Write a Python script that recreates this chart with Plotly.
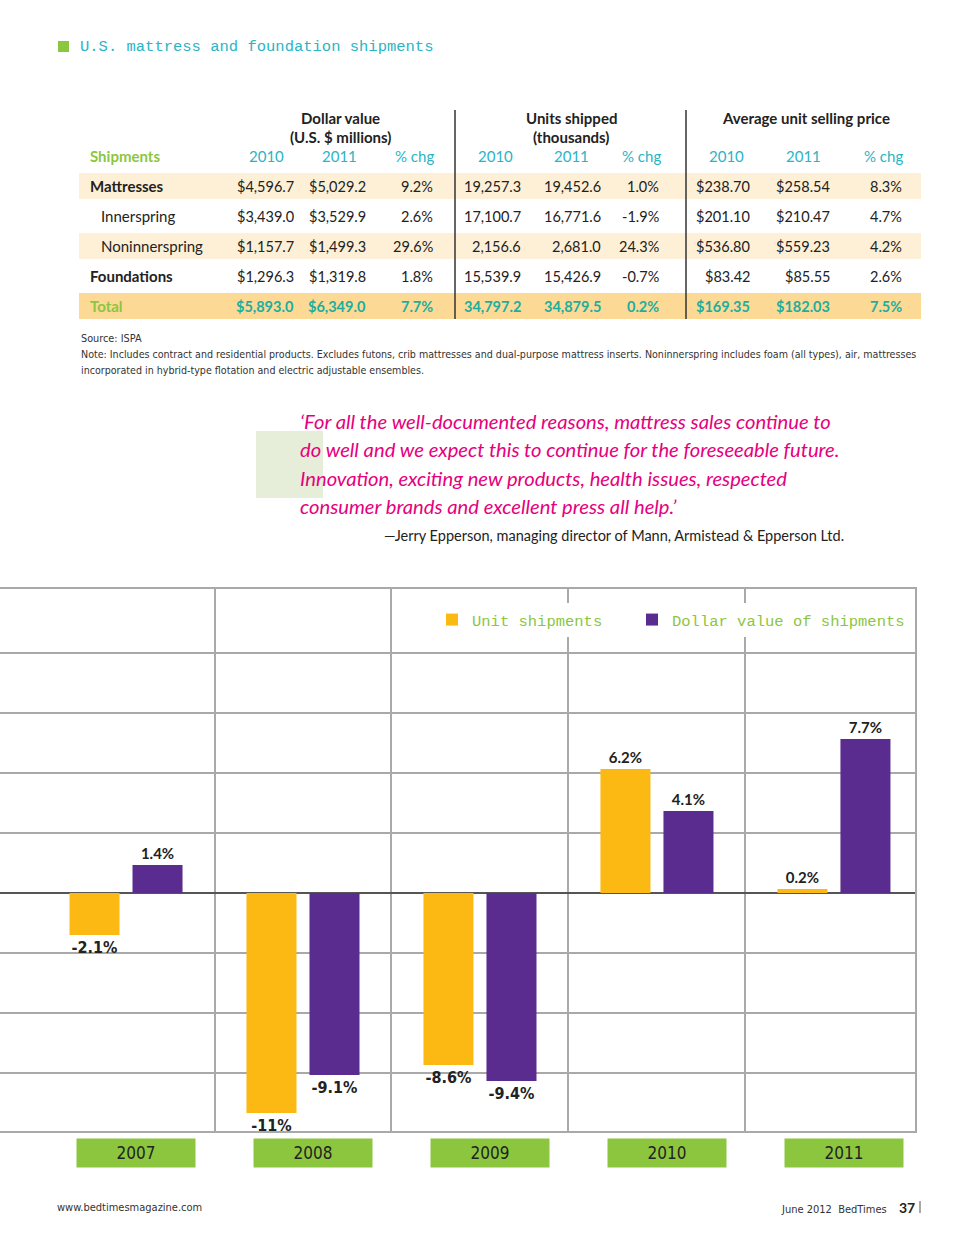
import plotly.graph_objects as go

W, H = 960, 1242

# ---------------- data ----------------
title_text = "U.S. mattress and foundation shipments"

group_titles = [["Dollar value", "(U.S. $ millions)"], ["Units shipped", "(thousands)"], ["Average unit selling price"]]
col_headers = ["2010", "2011", "% chg"]

row_labels = ["Mattresses", "Innerspring", "Noninnerspring", "Foundations", "Total"]
dollar_2010 = [4596.7, 3439.0, 1157.7, 1296.3, 5893.0]
dollar_2011 = [5029.2, 3529.9, 1499.3, 1319.8, 6349.0]
dollar_pct = [9.2, 2.6, 29.6, 1.8, 7.7]
units_2010 = [19257.3, 17100.7, 2156.6, 15539.9, 34797.2]
units_2011 = [19452.6, 16771.6, 2681.0, 15426.9, 34879.5]
units_pct = [1.0, -1.9, 24.3, -0.7, 0.2]
asp_2010 = [238.70, 201.10, 536.80, 83.42, 169.35]
asp_2011 = [258.54, 210.47, 559.23, 85.55, 182.03]
asp_pct = [8.3, 4.7, 4.2, 2.6, 7.5]

source_text = "Source: ISPA"
note_lines = [
    "Note: Includes contract and residential products. Excludes futons, crib mattresses and dual-purpose mattress inserts. Noninnerspring includes foam (all types), air, mattresses",
    "incorporated in hybrid-type flotation and electric adjustable ensembles.",
]
quote_lines = [
    "\u2018For all the well-documented reasons, mattress sales continue to",
    "do well and we expect this to continue for the foreseeable future.",
    "Innovation, exciting new products, health issues, respected",
    "consumer brands and excellent press all help.\u2019",
]
quote_author = "\u2014Jerry Epperson, managing director of Mann, Armistead & Epperson Ltd."

years = [2007, 2008, 2009, 2010, 2011]
unit_shipments_chg = [-2.1, -11, -8.6, 6.2, 0.2]
dollar_value_chg = [1.4, -9.1, -9.4, 4.1, 7.7]

# ---------------- styles ----------------
LATO = "Lato, 'Noto Sans', sans-serif"
NARROW = "'Liberation Sans Narrow', 'DejaVu Sans Condensed', sans-serif"
MONO = "'Liberation Mono', 'DejaVu Sans Mono', monospace"
TEAL = "#2ab4c4"
GREEN = "#8cc63f"
DARK = "#222222"
YELLOW = "#fdb913"
PURPLE = "#5b2c8f"
GRID = "#a9a9a9"


def px(x):
    return x / W


def py(y):
    return 1 - y / H


annotations = []
shapes = []


def txt(x, y, s, size, color=DARK, family=LATO, xanchor="left", yanchor="middle"):
    annotations.append(dict(xref="paper", yref="paper", x=px(x), y=py(y), text=s,
                            showarrow=False, xanchor=xanchor, yanchor=yanchor,
                            font=dict(family=family, size=size, color=color)))


def rect(x0, y0, x1, y1, color):
    shapes.append(dict(type="rect", xref="paper", yref="paper", x0=px(x0), x1=px(x1),
                       y0=py(y1), y1=py(y0), fillcolor=color, line=dict(width=0), layer="below"))


def vline(x, y0, y1, color, width):
    shapes.append(dict(type="line", xref="paper", yref="paper", x0=px(x), x1=px(x),
                       y0=py(y1), y1=py(y0), line=dict(color=color, width=width)))


# ---------------- header ----------------
rect(58, 41, 69, 52, GREEN)
txt(78, 47, title_text, 15.5, TEAL, MONO)

# ---------------- table ----------------
row_y = [186, 216, 246, 276, 306]
band_colors = ["#fdf0d6", None, "#fdf0d6", None, "#fcd994"]
for yc, bc in zip(row_y, band_colors):
    if bc:
        rect(79, yc - 13, 921, yc + 13, bc)

vline(455, 110, 319, "#333333", 1.5)
vline(686, 110, 319, "#333333", 1.5)

group_centers = [340, 571, 806]
for gc, lines in zip(group_centers, group_titles):
    for i, line in enumerate(lines):
        txt(gc, 118 + 19 * i, "<b>" + line + "</b>", 15, DARK, LATO, "center")

txt(88, 156, "<b>Shipments</b>", 15, GREEN)
head_centers = [266, 339, 414, 495, 571, 641, 726, 803, 883]
for i, hc in enumerate(head_centers):
    txt(hc, 156, col_headers[i % 3], 15, TEAL, LATO, "center")

right_edges = [296, 368, 435, 523, 603, 661, 752, 832, 904]
columns = [
    [f"${v:,.1f}" for v in dollar_2010],
    [f"${v:,.1f}" for v in dollar_2011],
    [f"{v:.1f}%" for v in dollar_pct],
    [f"{v:,.1f}" for v in units_2010],
    [f"{v:,.1f}" for v in units_2011],
    [f"{v:.1f}%" for v in units_pct],
    [f"${v:,.2f}" for v in asp_2010],
    [f"${v:,.2f}" for v in asp_2011],
    [f"{v:.1f}%" for v in asp_pct],
]
for r, (label, yc) in enumerate(zip(row_labels, row_y)):
    is_total = label == "Total"
    if label in ("Innerspring", "Noninnerspring"):
        txt(99, yc, label, 15, DARK)
    elif is_total:
        txt(88, yc, "<b>" + label + "</b>", 15, GREEN)
    else:
        txt(88, yc, "<b>" + label + "</b>", 15, DARK)
    for c, re in enumerate(right_edges):
        val = columns[c][r]
        if is_total:
            txt(re, yc, "<b>" + val + "</b>", 14.5, "#1cae9f", LATO, "right")
        else:
            txt(re, yc, val, 14.5, DARK, LATO, "right")

txt(79, 338, source_text, 10.8, "#333333", NARROW)
for i, line in enumerate(note_lines):
    txt(79, 354 + 16 * i, line, 10.6, "#333333", NARROW)

# ---------------- quote ----------------
rect(256, 431, 323, 498, "#e6eed9")
for i, line in enumerate(quote_lines):
    txt(298, 421 + 28.3 * i, "<i>" + line + "</i>", 20.2, "#e6007e", LATO)
txt(846, 536, quote_author, 14.5, DARK, LATO, "right")

# ---------------- footer ----------------
txt(55, 1207, "www.bedtimesmagazine.com", 11, "#333333", NARROW)
txt(889, 1209, "June 2012  BedTimes", 11, "#333333", NARROW, "right")
txt(897, 1207, "<b>37</b>", 14, DARK, LATO)
vline(920, 1201, 1213, "#555555", 1)

# ---------------- chart ----------------
fig = go.Figure()


def labels(vals):
    return [f"<b>{v:g}%</b>" for v in vals]


def fams(vals):
    return [LATO if v >= 0 else NARROW for v in vals]


def sizes(vals):
    return [15 if v >= 0 else 16 for v in vals]


for name, vals, color, lg in [("Unit shipments", unit_shipments_chg, YELLOW, "legend"),
                              ("Dollar value of shipments", dollar_value_chg, PURPLE, "legend2")]:
    fig.add_bar(x=years, y=vals, name=name, marker=dict(color=color, line=dict(width=0)),
                text=labels(vals), textposition="outside", cliponaxis=False,
                constraintext="none", legend=lg,
                textfont=dict(family=fams(vals), size=sizes(vals), color=DARK),
                hoverinfo="skip")

for yr in years:
    annotations.append(dict(xref="x", yref="paper", x=yr, xshift=10, y=py(1153), text=str(yr),
                            showarrow=False, xanchor="center", yanchor="middle",
                            bgcolor=GREEN, width=116, height=26,
                            font=dict(family=NARROW, size=17, color=DARK)))

legend_style = dict(orientation="h", xanchor="left", y=py(620), yanchor="middle",
                    bgcolor="white", borderwidth=0,
                    font=dict(family=MONO, size=15.5, color=GREEN), itemwidth=30)

fig.update_layout(
    width=W, height=H,
    margin=dict(l=0, r=0, t=0, b=0, pad=0),
    paper_bgcolor="white", plot_bgcolor="white",
    barmode="group", bargap=0.288, bargroupgap=0.206,
    showlegend=True,
    legend=dict(x=px(432), **legend_style),
    legend2=dict(x=px(632), **legend_style),
    xaxis=dict(domain=[0, px(915)], range=[years[0] - 0.712, years[-1] + 0.458],
               tickmode="array", tickvals=[y + 0.5 for y in years[:-1]],
               showticklabels=False, ticks="", showgrid=True, gridcolor=GRID, gridwidth=1.5,
               showline=True, mirror=True, linecolor=GRID, linewidth=1.5, zeroline=False,
               fixedrange=True),
    yaxis=dict(domain=[py(1131), py(589)], range=[-11.9, 15.2],
               tickmode="array", tickvals=[-9, -6, -3, 0, 3, 6, 9, 12],
               showticklabels=False, ticks="", showgrid=True, gridcolor=GRID, gridwidth=1.5,
               zeroline=True, zerolinecolor="#555555", zerolinewidth=2,
               showline=True, side="right", linecolor=GRID, linewidth=1.5, fixedrange=True),
    annotations=annotations,
    shapes=shapes,
)

fig.write_html("out.html", config={"displayModeBar": False},
               post_script="document.body.style.margin='0px';")
